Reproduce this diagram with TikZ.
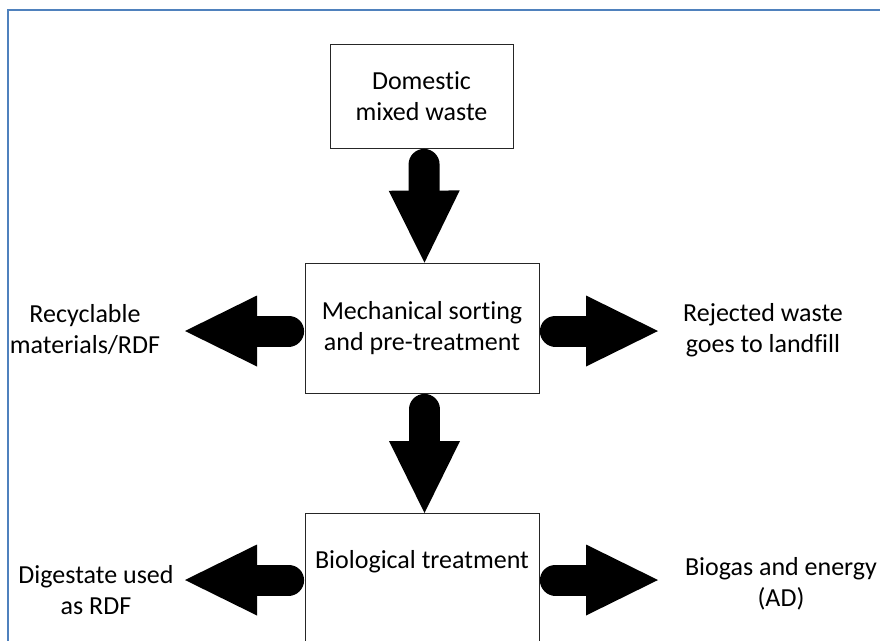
\documentclass[tikz,border=0pt]{standalone}
\usepackage{fontspec}
\setmainfont{Carlito}[Ligatures=NoCommon]
\usetikzlibrary{arrows.meta}
\definecolor{frameBlue}{RGB}{79,129,189}

\begin{document}
\begin{tikzpicture}[x=1pt, y=-1pt, font=\fontsize{26}{31}\selectfont,
    box/.style={draw=black!85, line width=0.8pt, rectangle, align=center, inner sep=0pt},
    txt/.style={align=center, inner sep=0pt},
    flow/.style={line width=31pt, line cap=round, shorten <=16pt,
      -{Triangle[length=72pt, width=71pt, line width=0pt]}}]
  \useasboundingbox (0,0) rectangle (880,640);

  % frame
  \draw[frameBlue, line width=2.5pt] (8,700) -- (8,10) -- (920,10);

  % process boxes
  \node[box, minimum width=183pt, minimum height=104pt] (dom) at (421.5,96) {Domestic\\mixed waste};
  \node[box, minimum width=234pt, minimum height=130pt] (mech) at (422,328) {Mechanical sorting\\and pre-treatment};
  \node[box, minimum width=234pt, minimum height=170pt, anchor=north] (bio) at (422,513) {};
  \node[txt] (biotxt) at (422,562) {Biological treatment};

  % outputs
  \node[txt] (recyc) at (85,330) {Recyclable\\materials/RDF};
  \node[txt] (reject) at (763,330) {Rejected waste\\goes to landfill};
  \node[txt] (digest) at (96,590) {Digestate used\\as RDF};
  \node[txt] (biogas) at (781,584) {Biogas and energy\\(AD)};

  \coordinate (recycTip) at (185,331);
  \coordinate (rejectTip) at (658,331);
  \coordinate (digestTip) at (185,580);
  \coordinate (biogasTip) at (658,580);

  % flows
  \draw[flow] ([xshift=2.5pt]dom.south) -- ([xshift=2.5pt]mech.north);
  \draw[flow] ([xshift=2.5pt]mech.south) -- ([xshift=2.5pt]bio.north);
  \draw[flow] (mech.west |- recycTip) -- (recycTip);
  \draw[flow] (mech.east |- rejectTip) -- (rejectTip);
  \draw[flow] (bio.west |- digestTip) -- (digestTip);
  \draw[flow] (bio.east |- biogasTip) -- (biogasTip);
\end{tikzpicture}
\end{document}
